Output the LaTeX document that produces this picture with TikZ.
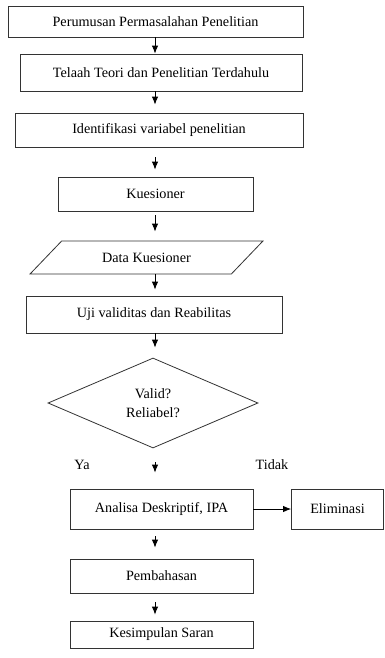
\documentclass[tikz,border=0pt]{standalone}
\usepackage{fontspec}
\setmainfont{Liberation Serif}
\usetikzlibrary{positioning,arrows.meta,shapes.geometric}
\tikzset{
  flowarrow/.style={-{Latex[length=8pt,width=6.5pt]}, line width=0.9pt},
  stepbox/.style={draw=black!80, line width=0.8pt, fill=white, align=center, inner sep=2pt},
  databox/.style={draw=black!80, line width=0.8pt, trapezium, trapezium left angle=30, trapezium right angle=150, trapezium stretches=true, align=center, inner sep=0pt},
  decbox/.style={draw=black!80, line width=0.8pt, diamond, align=center, inner sep=0pt},
  branch/.style={inner sep=0pt}
}

\begin{document}
\begin{tikzpicture}[x=1pt, y=-1pt, every node/.style={font=\fontsize{14.2}{15.5}\selectfont}]
  \useasboundingbox[fill=white] (0,0) rectangle (384,658);
  \coordinate (axis) at (155,0);
  \node[stepbox, minimum width=295pt, minimum height=31pt] (rumus) at (155.5,21.5) {Perumusan Permasalahan Penelitian};
  \node[stepbox, minimum width=282pt, minimum height=37pt] (teori) at (161,72.5) {Telaah Teori dan Penelitian Terdahulu};
  \node[stepbox, minimum width=288pt, minimum height=34pt] (ident) at (159,130) {Identifikasi variabel penelitian};
  \node[stepbox, minimum width=195pt, minimum height=34pt] (kues) at (155.5,194) {Kuesioner};
  \node[databox, minimum width=233pt, minimum height=33pt] (data) at (146.5,257.5) {Data Kuesioner};
  \node[stepbox, minimum width=256pt, minimum height=37pt] (uji) at (154,314.5) {Uji validitas dan Reabilitas};
  \node[decbox, minimum width=210pt, minimum height=90pt] (cek) at (153,403) {Valid?\\[3pt]Reliabel?};
  \node[branch] (ya) at (82,465) {Ya};
  \node[branch] (tidak) at (272,465) {Tidak};
  \node[stepbox, minimum width=183pt, minimum height=40pt] (anal) at (161.5,509) {Analisa Deskriptif, IPA};
  \node[stepbox, minimum width=92pt, minimum height=40pt] (elim) at (337.5,509) {Eliminasi};
  \node[stepbox, minimum width=183pt, minimum height=34pt] (bahas) at (161.5,576) {Pembahasan};
  \node[stepbox, minimum width=183pt, minimum height=27pt] (simpul) at (161.5,634.5) {Kesimpulan Saran};

  \draw[flowarrow] (rumus.south -| axis) -- (teori.north -| axis);
  \draw[flowarrow, shorten >=8pt] (teori.south -| axis) -- (ident.north -| axis);
  \draw[flowarrow, shorten <=10pt, shorten >=7pt] (ident.south -| axis) -- (kues.north -| axis);
  \draw[flowarrow, shorten <=4pt, shorten >=9pt] (kues.south -| axis) -- (data.north -| axis);
  \draw[flowarrow, shorten >=6pt] (data.south -| axis) -- (uji.north -| axis);
  \draw[flowarrow, shorten >=10pt] (uji.south -| axis) -- (cek.north -| axis);
  \draw[flowarrow, shorten <=14pt, shorten >=16pt] (cek.south -| axis) -- (anal.north -| axis);
  \draw[flowarrow] (anal) -- (elim);
  \draw[flowarrow, shorten <=7pt, shorten >=11pt] (anal.south -| axis) -- (bahas.north -| axis);
  \draw[flowarrow, shorten <=9pt, shorten >=6pt] (bahas.south -| axis) -- (simpul.north -| axis);
\end{tikzpicture}
\end{document}
